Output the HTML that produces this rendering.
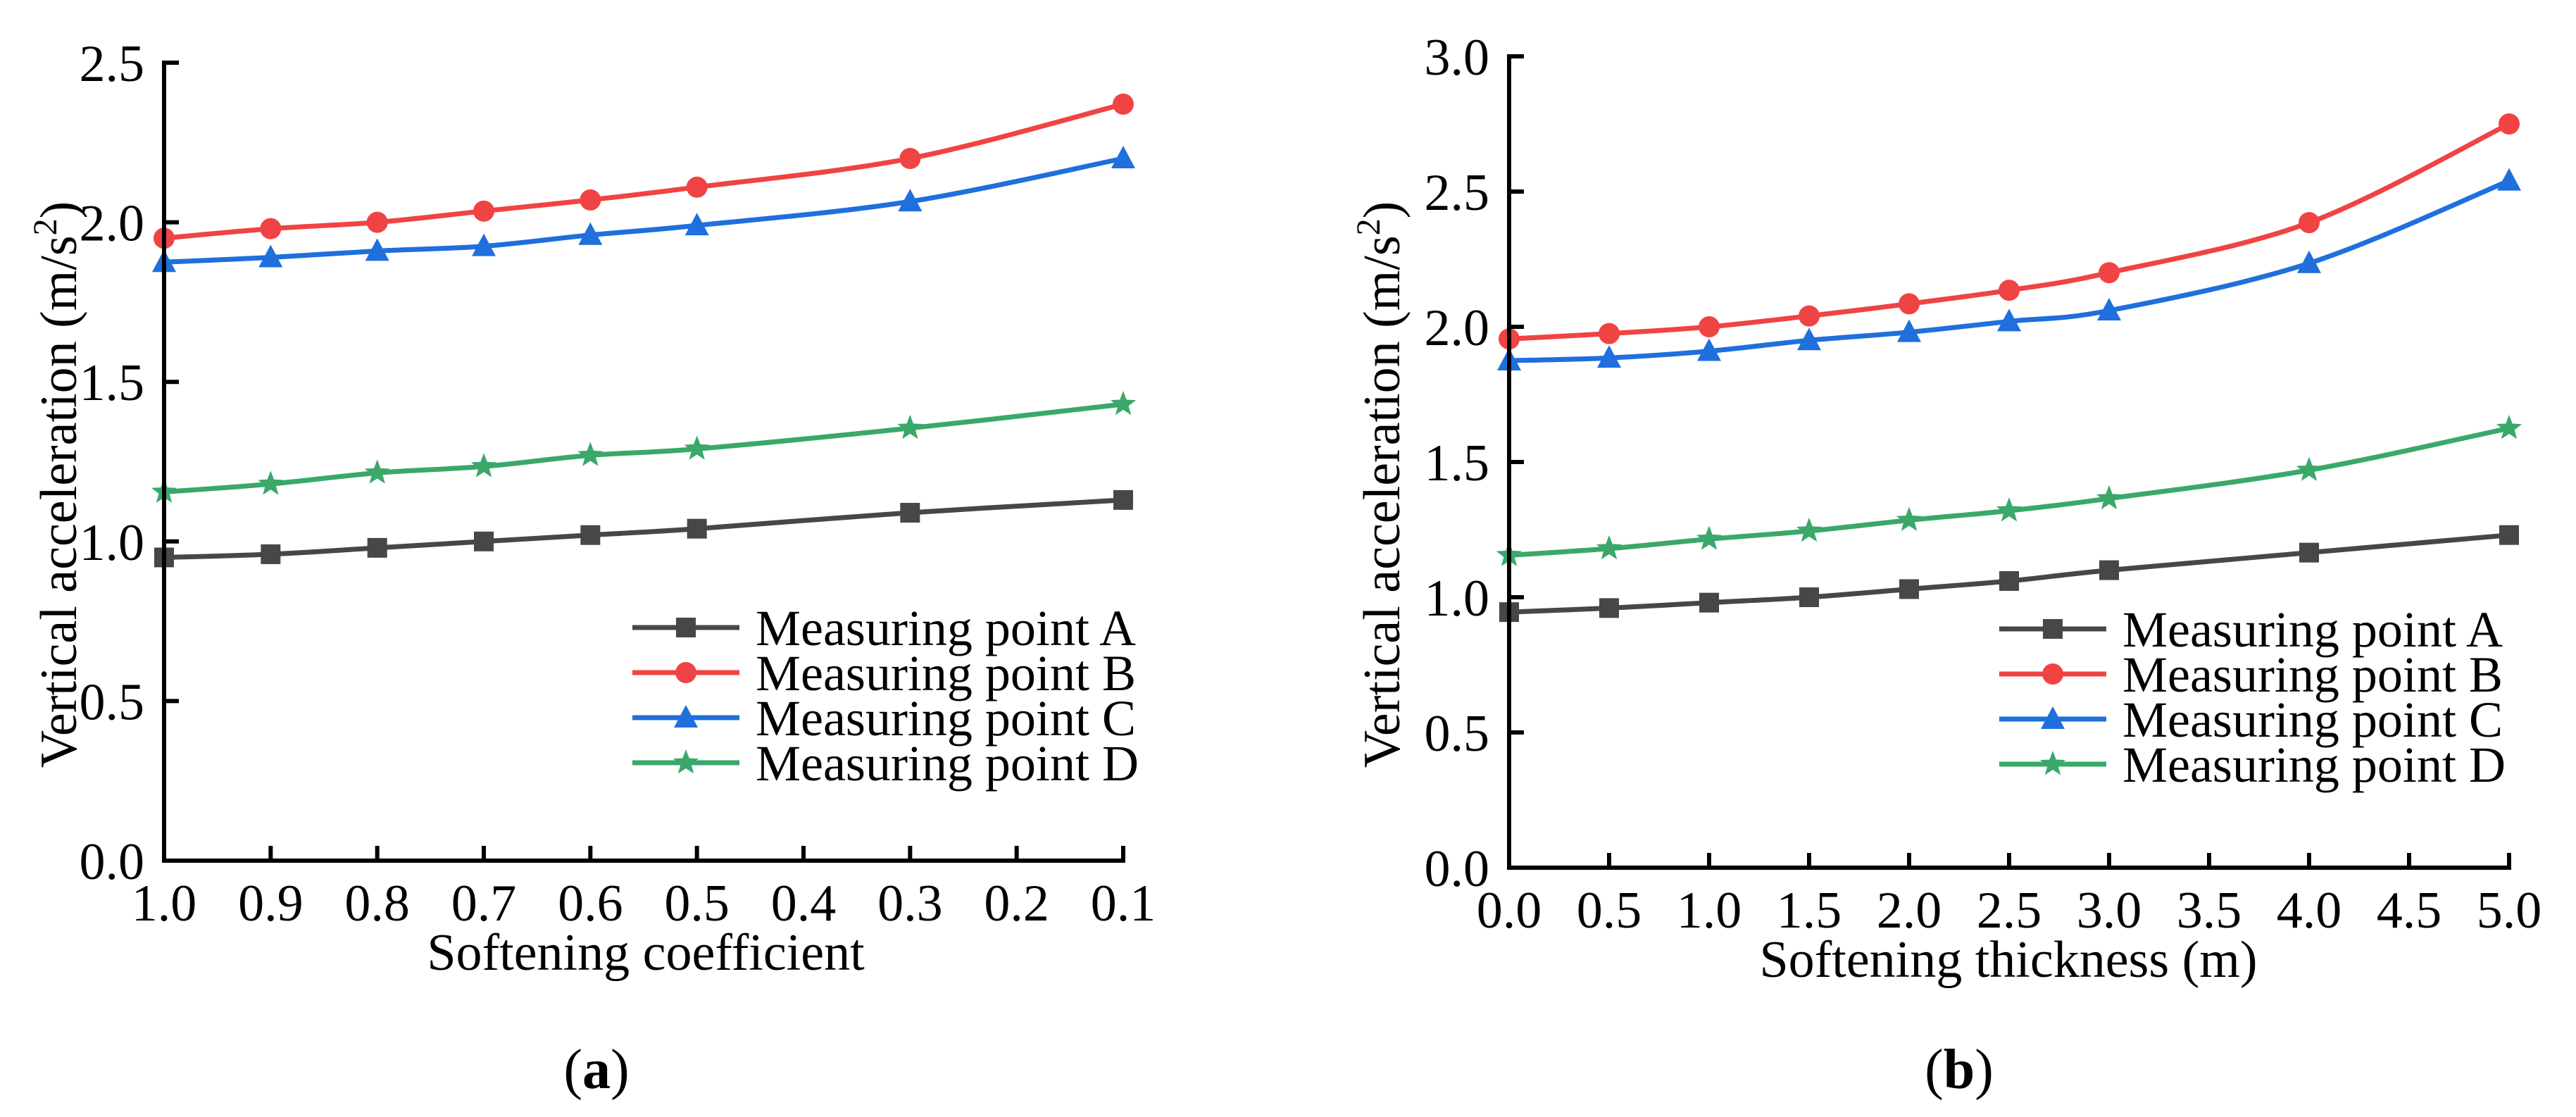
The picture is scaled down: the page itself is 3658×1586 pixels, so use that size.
<!DOCTYPE html>
<html><head><meta charset="utf-8"><style>
html,body{margin:0;padding:0;background:#fff}
svg{display:block}
text{font-family:"Liberation Serif",serif;fill:#000}
</style></head><body>
<svg id="fig" width="3658" height="1586" viewBox="0 0 3658 1586" xmlns="http://www.w3.org/2000/svg"></svg>
<script>
const seriesNames=["Measuring point A","Measuring point B","Measuring point C","Measuring point D"];
const aX=[1.0,0.9,0.8,0.7,0.6,0.5,0.3,0.1];
const aA=[0.95,0.96,0.98,1.0,1.02,1.04,1.09,1.13];
const aB=[1.95,1.98,2.0,2.035,2.07,2.11,2.2,2.37];
const aC=[1.875,1.89,1.91,1.925,1.96,1.99,2.065,2.2];
const aD=[1.155,1.18,1.215,1.235,1.27,1.29,1.355,1.43];
const aXTicks=[1.0,0.9,0.8,0.7,0.6,0.5,0.4,0.3,0.2,0.1];
const aYTicks=[0,0.5,1.0,1.5,2.0,2.5];
const bX=[0,0.5,1,1.5,2,2.5,3,4,5];
const bA=[0.945,0.96,0.98,1.0,1.03,1.06,1.1,1.165,1.23];
const bB=[1.955,1.975,2.0,2.04,2.085,2.135,2.2,2.385,2.75];
const bC=[1.875,1.885,1.91,1.95,1.98,2.02,2.06,2.235,2.54];
const bD=[1.155,1.18,1.215,1.245,1.285,1.32,1.365,1.47,1.625];
const bXTicks=[0,0.5,1,1.5,2,2.5,3,3.5,4,4.5,5];
const bYTicks=[0,0.5,1.0,1.5,2.0,2.5,3.0];

const NS="http://www.w3.org/2000/svg";
const svg=document.getElementById('fig');
const colors=["#474747","#f04343","#1f6fdc","#3aa86a"];
const markers=["square","circle","triangle","star"];
function el(tag,attrs,parent){const e=document.createElementNS(NS,tag);for(const k in attrs)e.setAttribute(k,attrs[k]);(parent||svg).appendChild(e);return e;}
function marker(g,type,x,y,c){
  let m;
  if(type==="square"){m=el('rect',{x:x-14,y:y-14,width:28,height:28,fill:c},g);}
  else if(type==="circle"){m=el('circle',{cx:x,cy:y,r:15,fill:c},g);}
  else if(type==="triangle"){m=el('polygon',{points:`${x},${y-18} ${x-17},${y+14} ${x+17},${y+14}`,fill:c},g);}
  else{let p=[];for(let i=0;i<10;i++){const r=i%2?8:19;const a=-Math.PI/2+i*Math.PI/5;p.push((x+r*Math.cos(a)).toFixed(1)+","+(y+r*Math.sin(a)).toFixed(1));}
    m=el('polygon',{points:p.join(" "),fill:c},g);}
  
  
}
function smooth(pts){
  let d=`M${pts[0][0]},${pts[0][1]}`;
  for(let i=0;i<pts.length-1;i++){
    const p0=pts[Math.max(0,i-1)],p1=pts[i],p2=pts[i+1],p3=pts[Math.min(pts.length-1,i+2)];
    const c1x=p1[0]+(p2[0]-p0[0])/6,c1y=p1[1]+(p2[1]-p0[1])/6;
    const c2x=p2[0]-(p3[0]-p1[0])/6,c2y=p2[1]-(p3[1]-p1[1])/6;
    d+=` C${c1x.toFixed(1)},${c1y.toFixed(1)} ${c2x.toFixed(1)},${c2y.toFixed(1)} ${p2[0].toFixed(1)},${p2[1].toFixed(1)}`;
  }
  return d;
}
function panel(cfg){
  const g=el('g',{});
  
  
  const sx=v=>cfg.x0+(v-cfg.xmin)/(cfg.xmax-cfg.xmin)*(cfg.x1-cfg.x0);
  const sy=v=>cfg.y0-(v-cfg.ymin)/(cfg.ymax-cfg.ymin)*(cfg.y0-cfg.y1);
  cfg.series.forEach((s,i)=>{
    const pts=cfg.xs.map((x,j)=>[sx(x),sy(s[j])]);
    const sg=el('g',{},g);
    
    
    const p=el('path',{d:smooth(pts),fill:'none',stroke:colors[i],'stroke-width':7},sg);
    
    
    pts.forEach(q=>marker(sg,markers[i],q[0],q[1],colors[i]));
  });
  const ax=el('path',{d:`M${cfg.x0},${cfg.y1} V${cfg.y0} H${cfg.x1}`,fill:'none',stroke:'#000','stroke-width':6,'stroke-linecap':'square'},g);
  
  
  cfg.yt.forEach(v=>{
    const y=sy(v);
    el('line',{x1:cfg.x0,x2:cfg.x0+21,y1:y,y2:y,stroke:'#000','stroke-width':6},g);
    const t=el('text',{x:cfg.x0-28,y:y+26,'font-size':74,'text-anchor':'end'},g);
    t.textContent=v.toFixed(1);
    
    
  });
  cfg.xt.forEach(v=>{
    const x=sx(v);
    el('line',{x1:x,x2:x,y1:cfg.y0,y2:cfg.y0-21,stroke:'#000','stroke-width':6},g);
    const t=el('text',{x:x,y:cfg.y0+85,'font-size':74,'text-anchor':'middle'},g);
    t.textContent=v.toFixed(1);
    
    
  });
  const xt=el('text',{x:cfg.xtx,y:cfg.y0+155,'font-size':74,'text-anchor':'middle'},g);
  xt.textContent=cfg.xtitle;
  
  
  const yt=el('text',{x:0,y:0,'font-size':74,'text-anchor':'middle',transform:`translate(${cfg.ytx},${cfg.yty}) rotate(-90)`},g);
  yt.innerHTML='Vertical acceleration (m/s<tspan dy="-28" font-size="48">2</tspan><tspan dy="28">)</tspan>';
  
  
  const lb=el('text',{x:cfg.xtx-70,y:1545,'font-size':80,'text-anchor':'middle'},g);
  lb.innerHTML=`(<tspan font-weight="bold">${cfg.label}</tspan>)`;
  
  
  const lg=el('g',{},g);
  
  
  seriesNames.forEach((n,i)=>{
    const y=cfg.legY+i*64;
    const e=el('g',{},lg);
    
    
    el('line',{x1:cfg.legX,x2:cfg.legX+152,y1:y,y2:y,stroke:colors[i],'stroke-width':7},e);
    marker(e,markers[i],cfg.legX+76,y,colors[i]);
    const t=el('text',{x:cfg.legX+175,y:y+25,'font-size':72},e);
    t.textContent=n;
  });
}
panel({name:'panel-a',x0:233,x1:1595,xmin:1.0,xmax:0.1,y0:1222,y1:89,ymin:0,ymax:2.5,xs:aX,series:[aA,aB,aC,aD],xt:aXTicks,yt:aYTicks,
  xtitle:'Softening coefficient',xtx:917,ytx:108,yty:688,label:'a',legX:898,legY:891});
panel({name:'panel-b',x0:2143,x1:3563,xmin:0,xmax:5,y0:1232,y1:80,ymin:0,ymax:3.0,xs:bX,series:[bA,bB,bC,bD],xt:bXTicks,yt:bYTicks,
  xtitle:'Softening thickness (m)',xtx:2852,ytx:1987,yty:688,label:'b',legX:2839,legY:893});
</script>
</body></html>
